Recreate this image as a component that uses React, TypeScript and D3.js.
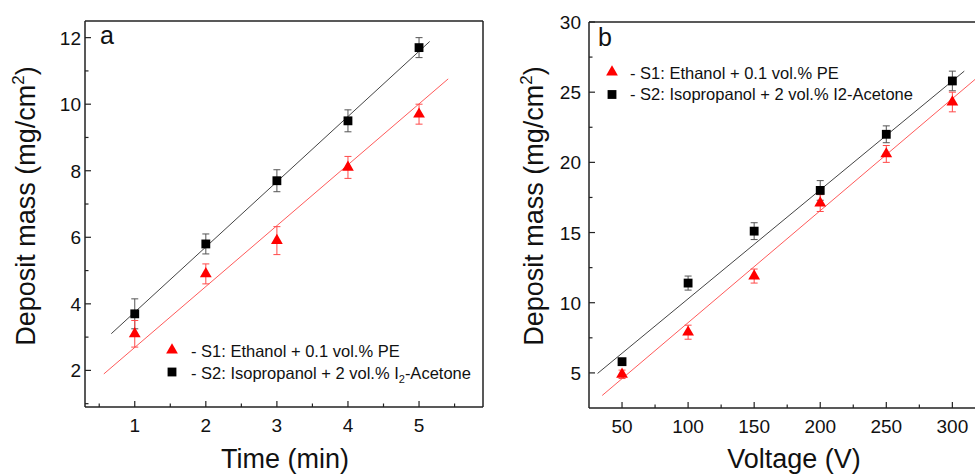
import React from 'react';
import * as d3 from 'd3';

// ---------- data ----------
const timeMin = [1, 2, 3, 4, 5];
const s1Time = [3.1, 4.9, 5.9, 8.1, 9.7];
const s1TimeErr = [0.4, 0.3, 0.42, 0.33, 0.3];
const s2Time = [3.7, 5.8, 7.7, 9.5, 11.7];
const s2TimeErr = [0.45, 0.3, 0.33, 0.33, 0.3];

const voltage = [50, 100, 150, 200, 250, 300];
const s1Volt = [4.9, 7.9, 11.9, 17.1, 20.6, 24.3];
const s1VoltErr = [0.3, 0.5, 0.5, 0.6, 0.6, 0.7];
const s2Volt = [5.8, 11.4, 15.1, 18.0, 22.0, 25.8];
const s2VoltErr = [0.2, 0.5, 0.6, 0.7, 0.6, 0.7];

// linear fits: [intercept, slope, xStart, xEnd]
const fitTimeS1 = [0.86, 1.83, 0.565, 5.41];
const fitTimeS2 = [1.79, 1.96, 0.67, 5.15];
const fitVoltS1 = [0.6, 0.0798, 35, 330];
const fitVoltS2 = [2.52, 0.0776, 31.5, 309];

const timeTicks = [1, 2, 3, 4, 5];
const timeMinor = [0.5, 1.5, 2.5, 3.5, 4.5, 5.5];
const massTicksA = [2, 4, 6, 8, 10, 12];
const massMinorA = [1, 3, 5, 7, 9, 11];
const voltTicks = [50, 100, 150, 200, 250, 300];
const voltMinor = [75, 125, 175, 225, 275, 325];
const massTicksB = [5, 10, 15, 20, 25, 30];
const massMinorB = [7.5, 12.5, 17.5, 22.5, 27.5];

const legendS1 = '- S1: Ethanol + 0.1 vol.% PE';
const legendS2a = ['- S2: Isopropanol + 2 vol.% I', '2', '-Acetone'];
const legendS2b = '- S2: Isopropanol + 2 vol.% I2-Acetone';

const FONT = "'Liberation Sans', Arial, Helvetica, sans-serif";
const RED = '#ff0000';
const RED_LINE = '#ff5a5a';
const RED_ERR = '#ff4a4a';
const BLK = '#000000';
const BLK_LINE = '#444444';
const BLK_ERR = '#555555';

const tri = d3.symbol(d3.symbolTriangle, 60)() as string;
const sq = d3.symbol(d3.symbolSquare, 78)() as string;

type PanelProps = {
  x0: number; x1: number; y0: number; y1: number;
  xDomain: [number, number]; yDomain: [number, number];
  xs: number[]; s1: number[]; e1: number[]; s2: number[]; e2: number[];
  f1: number[]; f2: number[];
  xt: number[]; xm: number[]; yt: number[]; ym: number[];
  yLabelGap: number; rightFrame: boolean;
};

function Panel(p: PanelProps) {
  const x = d3.scaleLinear().domain(p.xDomain).range([p.x0, p.x1]);
  const y = d3.scaleLinear().domain(p.yDomain).range([p.y1, p.y0]);
  const fitPath = (f: number[]) => {
    const pts: [number, number][] = [f[2], f[3]].map((v) => [x(v), y(f[0] + f[1] * v)]);
    return d3.line()(pts) as string;
  };
  const errBars = (vals: number[], errs: number[], color: string) =>
    p.xs.map((xv, i) => {
      const cx = x(xv);
      const top = y(vals[i] + errs[i]);
      const bot = y(vals[i] - errs[i]);
      return (
        <g key={'e' + color + i} stroke={color} strokeWidth={1}>
          <line x1={cx} x2={cx} y1={top} y2={bot} />
          <line x1={cx - 3.5} x2={cx + 3.5} y1={top} y2={top} />
          <line x1={cx - 3.5} x2={cx + 3.5} y1={bot} y2={bot} />
        </g>
      );
    });
  return (
    <g>
      <path d={fitPath(p.f2)} stroke={BLK_LINE} strokeWidth={1} fill="none" />
      <path d={fitPath(p.f1)} stroke={RED_LINE} strokeWidth={1} fill="none" />
      {errBars(p.s2, p.e2, BLK_ERR)}
      {errBars(p.s1, p.e1, RED_ERR)}
      {p.xs.map((xv, i) => (
        <path key={'s2' + i} d={sq} transform={`translate(${x(xv)},${y(p.s2[i])})`} fill={BLK} />
      ))}
      {p.xs.map((xv, i) => (
        <path key={'s1' + i} d={tri} transform={`translate(${x(xv)},${y(p.s1[i])})`} fill={RED} />
      ))}
      <g stroke="#222" strokeWidth={1.5} fill="none">
        <line x1={p.x0} x2={p.x0} y1={p.y0} y2={p.y1} />
        <line x1={p.x0} x2={p.x1} y1={p.y1} y2={p.y1} />
        <line x1={p.x0} x2={p.x1} y1={p.y0} y2={p.y0} />
        {p.rightFrame && <line x1={p.x1} x2={p.x1} y1={p.y0} y2={p.y1} />}
      </g>
      <g stroke="#222" strokeWidth={1.2}>
        {p.xt.map((t) => (
          <line key={'xt' + t} x1={x(t)} x2={x(t)} y1={p.y1} y2={p.y1 - 6} />
        ))}
        {p.xm.map((t) => (
          <line key={'xm' + t} x1={x(t)} x2={x(t)} y1={p.y1} y2={p.y1 - 3.5} />
        ))}
        {p.yt.map((t) => (
          <line key={'yt' + t} x1={p.x0} x2={p.x0 + 6} y1={y(t)} y2={y(t)} />
        ))}
        {p.ym.map((t) => (
          <line key={'ym' + t} x1={p.x0} x2={p.x0 + 3.5} y1={y(t)} y2={y(t)} />
        ))}
      </g>
      <g fontFamily={FONT} fontSize={19} fill="#111">
        {p.xt.map((t) => (
          <text key={'xl' + t} x={x(t)} y={p.y1 + 25} textAnchor="middle">{t}</text>
        ))}
        {p.yt.map((t) => (
          <text key={'yl' + t} x={p.x0 - p.yLabelGap} y={y(t) + 7} textAnchor="end">{t}</text>
        ))}
      </g>
    </g>
  );
}

function YTitle({ x, y }: { x: number; y: number }) {
  return (
    <text transform={`translate(${x},${y}) rotate(-90)`} textAnchor="middle" fontFamily={FONT} fontSize={27} fill="#111">
      Deposit mass (mg/cm
      <tspan fontSize={17} dy={-11}>2</tspan>
      <tspan dy={11}>)</tspan>
    </text>
  );
}

export default function App() {
  return (
    <svg width={975} height={475} style={{ position: 'absolute', left: 0, top: 0, background: '#fff' }}>
      <rect x={0} y={0} width={975} height={475} fill="#fff" />
      <Panel
        x0={85} x1={483} y0={21} y1={407}
        xDomain={[0.3, 5.9]} yDomain={[0.9, 12.5]}
        xs={timeMin} s1={s1Time} e1={s1TimeErr} s2={s2Time} e2={s2TimeErr}
        f1={fitTimeS1} f2={fitTimeS2}
        xt={timeTicks} xm={timeMinor} yt={massTicksA} ym={massMinorA}
        yLabelGap={4} rightFrame={true}
      />
      <Panel
        x0={589} x1={992} y0={22} y1={408}
        xDomain={[25, 330]} yDomain={[2.5, 30]}
        xs={voltage} s1={s1Volt} e1={s1VoltErr} s2={s2Volt} e2={s2VoltErr}
        f1={fitVoltS1} f2={fitVoltS2}
        xt={voltTicks} xm={voltMinor} yt={massTicksB} ym={massMinorB}
        yLabelGap={8} rightFrame={false}
      />
      <text x={100} y={44} fontFamily={FONT} fontSize={25} fill="#111">a</text>
      <text x={598} y={46} fontFamily={FONT} fontSize={25} fill="#111">b</text>
      <text x={285} y={468} textAnchor="middle" fontFamily={FONT} fontSize={27} fill="#111">Time (min)</text>
      <text x={794} y={468} textAnchor="middle" fontFamily={FONT} fontSize={27} fill="#111">Voltage (V)</text>
      <YTitle x={35} y={206} />
      <YTitle x={543} y={206} />
      <g fontFamily={FONT} fontSize={16.5} fill="#111">
        <path d={tri} transform="translate(172,350)" fill={RED} />
        <path d={sq} transform="translate(172,372)" fill={BLK} />
        <text x={191} y={357}>{legendS1}</text>
        <text x={191} y={378.5}>
          {legendS2a[0]}
          <tspan fontSize={11} dy={4}>{legendS2a[1]}</tspan>
          <tspan dy={-4}>{legendS2a[2]}</tspan>
        </text>
        <path d={tri} transform="translate(612,72)" fill={RED} />
        <path d={sq} transform="translate(612,94.5)" fill={BLK} />
        <text x={630} y={78.5}>{legendS1}</text>
        <text x={630} y={100}>{legendS2b}</text>
      </g>
    </svg>
  );
}
